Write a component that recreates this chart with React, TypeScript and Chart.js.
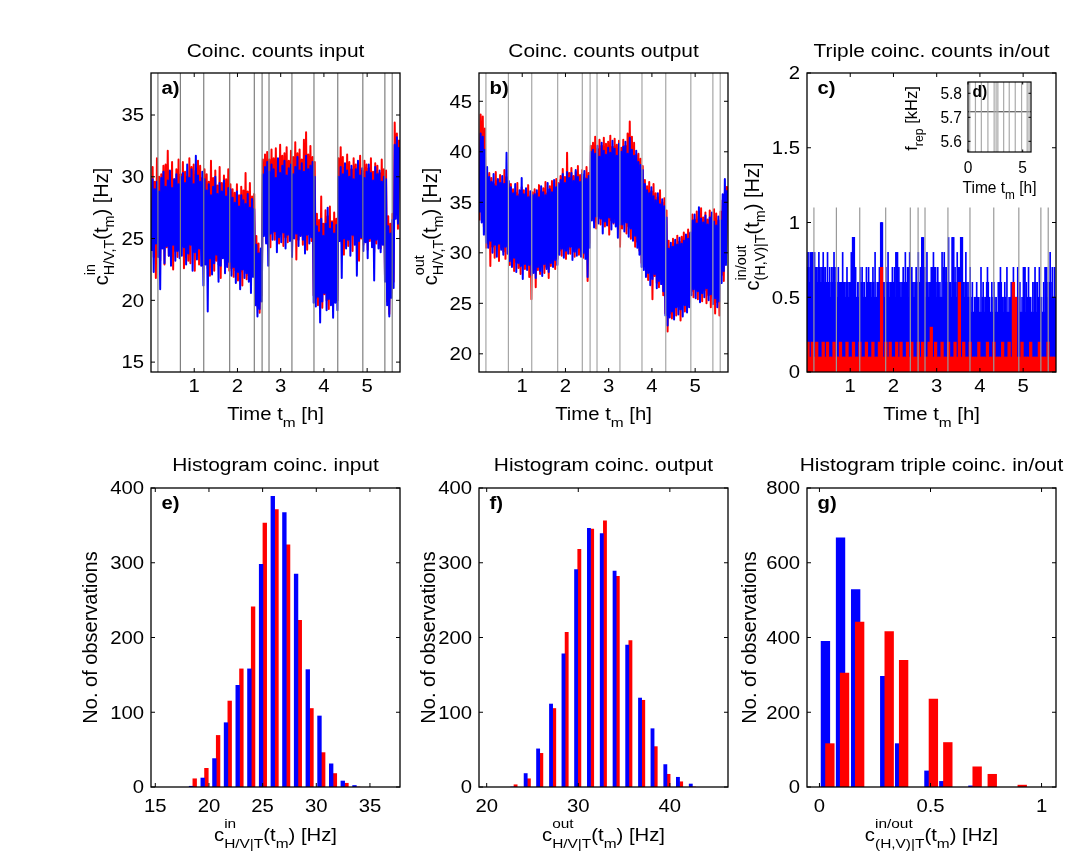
import React, { useEffect, useRef } from 'react';
import { Chart, registerables } from 'chart.js';

Chart.register(...registerables);

const W = 1073;
const H = 865;
const FONT = '"Liberation Sans", Arial, Helvetica, sans-serif';
const BLUE = '#0000ff';
const RED = '#ff0000';

// Reference events (hours) marked with grey vertical lines
const eventTimes = [0.16, 0.68, 1.22, 1.82, 2.39, 2.57, 2.73, 3.26, 3.77, 4.32, 4.9, 5.41, 5.58];

// Time series are stored as per-bin (0.05 h) minimum / maximum of the recorded rate
const BIN_H = 0.05;

// a) input coincidences [Hz]
const inBlueHi = [29.8, 29.0, 29.6, 28.8, 29.9, 30.4, 29.2, 29.7, 30.5, 29.1, 29.8, 30.2, 29.4, 30.0,
  30.3, 29.5, 31.0, 29.9, 30.6, 29.4, 31.7, 30.1, 29.6, 30.4, 29.8,
  28.9, 29.4, 28.5, 29.2, 30.0, 28.6, 29.5, 28.8, 29.7, 28.4, 29.1, 29.0,
  28.3, 27.9, 28.8, 27.6, 28.5, 28.1, 27.8, 28.6, 27.5, 28.2, 27.4,
  24.5, 23.8, 24.2, 30.2,
  30.8, 31.2, 30.4, 31.0, 30.6, 29.9, 31.5, 30.3, 30.9, 31.3, 30.1, 30.7, 31.0, 30.2, 30.8, 31.6, 30.5, 31.1, 30.4, 31.7, 30.6, 30.9, 31.2, 30.0,
  26.0, 25.5, 26.6, 25.2, 26.2, 27.5, 25.8, 26.3, 25.4, 26.1, 30.0,
  30.8, 30.2, 31.1, 30.5, 30.0, 30.9, 29.8, 30.6, 31.3, 30.1, 30.7, 29.9, 30.4, 31.0, 30.3, 29.7, 30.8, 30.2, 30.5, 29.6, 30.0,
  29.8, 26.0, 25.4, 26.5,
  32.6, 33.2, 32.4];
const inBlueLo = [24.0, 22.3, 24.6, 23.5, 20.9, 24.2, 23.0, 24.4, 23.6, 22.8, 24.5, 23.2, 24.0, 23.4,
  23.6, 24.3, 22.9, 23.8, 24.5, 22.4, 23.9, 23.3, 24.2, 22.8, 21.2,
  22.9, 19.1, 23.4, 22.1, 23.0, 23.7, 21.5, 22.8, 23.4, 22.2, 22.7, 23.1,
  22.0, 22.7, 21.4, 22.3, 20.9, 22.5, 21.8, 22.2, 21.5, 20.6, 21.9,
  19.6, 18.7, 19.3, 19.9,
  25.2, 24.6, 22.8, 25.4, 24.9, 25.6, 23.9, 25.1, 24.7, 25.5, 24.2, 25.3, 24.8, 23.5, 25.0, 25.4, 24.4, 25.2, 24.9, 23.8, 25.3, 24.6, 25.1, 19.8,
  19.5, 20.3, 18.2, 19.9, 20.6, 19.2, 20.1, 19.6, 18.6, 19.8, 19.2,
  24.8, 21.8, 25.0, 24.2, 24.9, 23.6, 25.3, 24.5, 22.0, 24.8, 25.1, 24.0, 24.7, 23.4, 25.0, 24.3, 21.6, 24.9, 24.2, 23.9, 24.5,
  21.5, 19.6, 18.7, 20.2,
  21.0, 26.6, 26.2];
const inRedHi = [30.8, 29.6, 31.5, 30.0, 30.2, 30.9, 31.0, 32.1, 30.4, 31.2, 29.8, 30.6, 31.4, 30.2,
  31.2, 30.4, 30.0, 31.5, 30.8, 31.0, 30.5, 31.3, 30.9, 29.9, 30.6,
  30.2, 29.6, 31.3, 29.9, 30.5, 29.3, 30.8, 29.5, 30.1, 29.8, 30.6, 29.4,
  29.0, 28.7, 29.4, 28.5, 29.2, 28.9, 30.3, 28.8, 29.5, 28.4, 28.6,
  25.2, 24.6, 23.9, 31.4,
  31.8, 32.0, 31.4, 32.2, 31.5, 32.3, 31.2, 32.6, 31.7, 31.9, 32.4, 31.3, 32.1, 31.6, 32.8, 31.9, 32.2, 31.4, 33.0, 33.6, 31.8, 32.5, 31.6, 31.2,
  27.0, 26.5, 28.4, 26.2, 27.3, 26.8, 27.6, 26.4, 27.1, 26.6, 31.5,
  32.4, 31.6, 30.9, 31.8, 31.2, 30.6, 31.5, 31.0, 30.8, 31.7, 30.5, 31.3, 31.0, 30.7, 31.5, 30.4, 31.1, 30.9, 30.3, 31.4, 30.6,
  30.5, 26.8, 26.2, 27.0,
  34.4, 33.5, 33.0];
const inRedLo = [24.5, 23.5, 21.8, 24.0, 23.2, 24.6, 22.9, 24.3, 23.6, 24.8, 22.5, 24.0, 23.5, 24.4,
  24.4, 22.6, 24.0, 23.2, 23.0, 24.6, 22.4, 24.1, 22.9, 24.3, 23.5,
  23.5, 22.6, 22.0, 23.8, 22.4, 23.2, 22.9, 21.8, 23.5, 22.6, 23.3, 22.4,
  22.6, 21.9, 22.4, 21.6, 22.3, 21.2, 22.5, 21.7, 22.0, 21.4, 22.3,
  20.3, 19.5, 19.0, 20.4,
  25.6, 24.8, 25.2, 24.3, 25.5, 24.9, 25.3, 24.6, 25.8, 24.4, 25.1, 24.7, 25.4, 24.2, 25.6, 23.3, 24.9, 25.3, 24.5, 25.0, 24.1, 25.4, 24.8, 20.4,
  20.2, 19.6, 20.8, 19.4, 20.5, 20.0, 19.3, 20.7, 19.9, 20.4, 20.0,
  25.4, 24.6, 23.7, 25.1, 24.4, 25.3, 24.0, 25.2, 24.7, 23.2, 25.0, 24.5, 25.3, 24.1, 24.8, 25.2, 23.9, 24.6, 25.0, 24.2, 24.7,
  22.0, 19.9, 18.9, 20.6,
  21.5, 27.0, 25.8];

// b) output coincidences [Hz]
const outBlueHi = [41.8, 41.5, 40.2, 38.5,
  37.5, 37.0, 37.8, 36.6, 37.3, 36.9, 37.6, 36.8, 39.9, 37.1,
  36.5, 35.9, 36.8, 35.6, 36.2, 37.4, 35.8, 36.4, 35.5, 36.1, 35.7,
  35.8, 36.2, 35.5, 36.6, 36.0, 35.7, 36.9, 36.3, 36.0, 37.2, 36.5, 36.8,
  37.2, 37.8, 36.9, 38.0, 37.4, 37.9, 37.1, 38.2, 37.5, 37.0, 37.8, 38.1, 37.3, 37.6, 40.0,
  40.2, 39.8, 40.6, 39.5, 40.9, 40.1, 39.7, 40.4, 39.9, 41.1, 40.3, 39.6, 40.8, 40.0,
  40.5, 41.0, 39.8, 41.4, 40.2, 39.6, 40.1, 39.0, 38.7, 38.2,
  36.8, 36.2, 35.9, 36.5, 35.6, 35.2, 35.9, 34.8, 35.3, 34.6, 33.5,
  30.4, 31.0, 30.6, 31.3, 30.8, 31.5, 30.9, 31.2, 31.8, 31.4, 32.0,
  33.2, 33.8, 32.9, 34.5, 33.4, 33.0, 33.7, 32.8, 33.5, 34.0, 33.1, 32.7, 33.6, 33.2,
  35.8, 37.3, 36.2];
const outBlueLo = [34.0, 33.0, 31.8, 31.0,
  30.5, 31.2, 30.0, 30.8, 29.6, 30.9, 30.3, 29.8, 30.6, 29.9,
  29.2, 28.6, 29.5, 28.1, 29.0, 28.7, 27.4, 28.9, 28.3, 28.8, 27.8,
  28.0, 27.5, 28.6, 28.2, 27.7, 28.9, 28.4, 28.1, 29.0, 28.6, 29.3, 28.8,
  29.8, 30.4, 29.5, 30.2, 29.9, 30.6, 29.3, 30.1, 29.7, 30.5, 29.6, 30.0, 29.4, 27.6, 30.5,
  33.2, 32.5, 33.6, 32.9, 33.4, 31.9, 33.1, 32.7, 33.5, 32.3, 33.0, 32.6, 31.5, 32.8,
  32.8, 32.1, 33.0, 31.6, 32.4, 31.2, 31.7, 30.5, 29.8, 28.6,
  28.3, 27.6, 28.0, 26.8, 27.4, 27.9, 26.5, 27.2, 26.9, 26.2, 23.8,
  22.8, 23.6, 24.2, 23.4, 24.6, 23.9, 24.4, 23.7, 24.8, 24.1, 24.6,
  25.8, 26.4, 25.5, 26.2, 25.1, 26.0, 25.6, 26.5, 25.3, 25.9, 24.9, 25.5, 24.6, 25.2,
  27.0, 28.2, 28.8];
const outRedHi = [43.7, 43.5, 42.3, 37.8,
  37.9, 37.4, 36.8, 38.0, 37.2, 37.7, 36.9, 38.2, 37.5, 36.8,
  36.8, 36.3, 36.0, 36.9, 35.8, 36.5, 36.2, 35.9, 36.7, 35.6, 36.0,
  36.3, 35.9, 36.7, 36.1, 36.4, 37.0, 35.9, 36.6, 37.1, 36.4, 37.3, 36.9,
  37.6, 38.3, 37.5, 39.9, 37.9, 38.4, 37.6, 38.0, 38.6, 37.7, 38.2, 37.4, 38.5, 37.9, 40.6,
  40.9, 41.5, 40.3, 41.2, 40.6, 41.4, 40.8, 41.0, 41.6, 40.5, 41.3, 40.7, 41.1, 40.4,
  41.2, 40.6, 41.8, 43.0, 41.5, 40.9, 39.7, 39.8, 39.3, 38.6,
  37.2, 36.6, 37.0, 36.1, 36.8, 35.9, 35.5, 36.2, 35.0, 35.4, 34.2,
  31.2, 30.6, 31.4, 30.9, 31.7, 31.1, 31.6, 32.0, 31.5, 32.3, 31.9,
  33.8, 33.3, 34.1, 33.6, 34.4, 33.5, 34.0, 33.3, 34.2, 33.7, 34.3, 33.9, 33.2, 34.1,
  35.2, 36.0, 36.6];
const outRedLo = [33.2, 34.5, 32.6, 30.5,
  30.9, 28.7, 30.6, 29.5, 30.9, 29.2, 30.5, 30.1, 29.4, 30.7,
  28.8, 29.3, 28.2, 29.1, 28.5, 27.9, 29.0, 28.4, 29.2, 27.6, 25.4,
  28.5, 26.6, 28.3, 27.9, 28.8, 28.0, 28.6, 27.5, 28.7, 29.1, 28.4, 29.4,
  30.2, 29.7, 30.5, 29.4, 30.3, 29.9, 30.7, 29.6, 30.4, 29.8, 30.3, 29.5, 29.9, 27.2, 31.0,
  33.6, 33.0, 32.4, 33.7, 32.8, 33.3, 32.6, 33.8, 31.8, 33.2, 32.9, 33.5, 32.4, 30.6,
  32.4, 33.1, 31.9, 32.6, 31.4, 32.0, 30.6, 31.1, 30.2, 29.0,
  28.8, 28.1, 27.3, 28.4, 25.4, 27.7, 27.0, 26.6, 27.4, 25.8, 24.0,
  22.2, 24.0, 23.5, 24.5, 23.8, 24.7, 23.3, 24.9, 24.2, 24.6, 25.0,
  26.2, 25.6, 26.6, 25.4, 26.0, 25.2, 26.3, 25.0, 25.8, 24.6, 25.4, 24.0, 25.1, 23.8,
  27.8, 27.2, 29.3];

// c) triple coincidences [Hz]: dense level and peak value per bin
const tripleBlueTop = [0.7, 0.6, 0.8, 0.7, 0.6, 0.7, 0.6, 0.7, 0.6, 0.6, 0.5, 0.6, 0.7, 0.6,
  0.5, 0.6, 0.6, 0.5, 0.6, 0.5, 0.6, 0.9, 0.5, 0.5, 0.6,
  0.6, 0.5, 0.5, 0.6, 0.5, 0.6, 0.5, 0.5, 0.6, 1.0, 0.5, 0.6,
  0.6, 0.5, 0.6, 0.5, 0.8, 0.6, 0.5, 0.6, 0.6, 0.5, 0.7, 0.6, 0.5, 0.6, 0.6,
  0.6, 0.9, 0.5, 0.6, 0.5, 0.6, 0.7, 0.5, 0.6, 0.5, 0.5, 0.7, 0.6, 0.6, 0.5,
  0.9, 0.6, 0.5, 0.7, 0.9, 0.5, 0.6, 0.5, 0.5, 0.4,
  0.4, 0.5, 0.4, 0.4, 0.5, 0.4, 0.6, 0.4, 0.4, 0.5, 0.4, 0.4, 0.6, 0.4,
  0.5, 0.4, 0.4, 0.5, 0.6, 0.4, 0.5, 0.4, 0.4, 0.7, 0.4, 0.5, 0.4, 0.4, 0.6, 0.4, 0.5, 0.4, 0.4, 0.7, 0.5, 0.6, 0.5, 0.5];
const tripleBluePeak = [0.8, 0.8, 0.8, 0.8, 0.7, 0.8, 0.7, 0.8, 0.7, 0.8, 0.7, 0.7, 0.8, 0.7,
  0.7, 0.6, 0.8, 0.6, 0.7, 0.6, 0.8, 0.9, 0.7, 0.6, 0.7,
  0.7, 0.6, 0.7, 0.7, 0.6, 0.7, 0.8, 0.6, 0.7, 1.0, 0.6, 0.7,
  0.8, 0.6, 0.7, 0.7, 0.8, 0.7, 0.6, 0.7, 0.8, 0.7, 0.8, 0.7, 0.6, 0.7, 0.8,
  0.7, 0.9, 0.7, 0.8, 0.6, 0.7, 0.8, 0.7, 0.7, 0.6, 0.8, 0.8, 0.7, 0.9, 0.6,
  0.9, 0.7, 0.8, 0.7, 0.9, 0.6, 0.8, 0.6, 0.7, 0.6,
  0.5, 0.6, 0.5, 0.7, 0.6, 0.5, 0.7, 0.5, 0.6, 0.6, 0.5, 0.6, 0.7, 0.5,
  0.6, 0.7, 0.5, 0.6, 0.7, 0.5, 0.7, 0.6, 0.5, 0.7, 0.6, 0.7, 0.5, 0.6, 0.7, 0.6, 0.7, 0.5, 0.6, 0.7, 0.6, 0.8, 0.7, 0.7];
const tripleRedHi = [0.2, 0.1, 0.2, 0.1, 0.2, 0.1, 0.1, 0.2, 0.1, 0.2, 0.1, 0.1, 0.2, 0.1,
  0.1, 0.2, 0.1, 0.1, 0.2, 0.1, 0.1, 0.2, 0.1, 0.1, 0.2,
  0.1, 0.1, 0.2, 0.1, 0.1, 0.2, 0.1, 0.1, 0.2, 0.7, 0.1, 0.2,
  0.1, 0.2, 0.1, 0.1, 0.2, 0.1, 0.2, 0.1, 0.1, 0.2, 0.1, 0.2, 0.1, 0.1, 0.2,
  0.1, 0.2, 0.1, 0.1, 0.2, 0.3, 0.1, 0.2, 0.1, 0.1, 0.2, 0.1, 0.1, 0.2, 0.1,
  0.1, 0.2, 0.1, 0.6, 0.1, 0.2, 0.1, 0.1, 0.2, 0.1,
  0.1, 0.1, 0.2, 0.1, 0.1, 0.1, 0.2, 0.1, 0.1, 0.2, 0.1, 0.1, 0.1, 0.2,
  0.1, 0.1, 0.2, 0.1, 0.6, 0.5, 0.1, 0.1, 0.2, 0.1, 0.1, 0.1, 0.2, 0.1, 0.1, 0.1, 0.2, 0.1, 0.1, 0.1, 0.2, 0.1, 0.1, 0.1];

// d) repetition rate [kHz]
const repTimes = [0, 5.76];
const repKHz = [5.723, 5.723];

// e) histogram of input coincidences
const eBins = [18.5, 19.59, 20.68, 21.76, 22.85, 23.94, 25.03, 26.12, 27.2, 28.29, 29.38, 30.47, 31.56, 32.64, 33.73];
const eBlue = [1, 12, 38, 86, 136, 158, 298, 389, 367, 285, 157, 95, 31, 8, 2];
const eRed = [11, 25, 69, 115, 158, 241, 353, 371, 324, 223, 105, 46, 18, 5, 0];

// f) histogram of output coincidences
const fBins = [22.98, 24.43, 25.79, 27.2, 28.56, 29.94, 31.34, 32.74, 34.14, 35.52, 36.92, 38.28, 39.68, 41.06, 42.46];
const fBlue = [0, 18, 51, 111, 178, 291, 346, 339, 289, 190, 119, 78, 30, 13, 4];
const fRed = [3, 11, 45, 105, 207, 318, 345, 356, 282, 196, 116, 54, 17, 7, 0];

// g) histogram of triple coincidences
const gBlueBins = [0.027, 0.095, 0.163, 0.294, 0.361, 0.493, 0.56, 0.691];
const gBlue = [390, 667, 528, 296, 116, 43, 15, 3];
const gRedBins = [0.047, 0.113, 0.181, 0.314, 0.379, 0.513, 0.578, 0.71, 0.778, 0.913];
const gRed = [116, 305, 441, 416, 339, 235, 119, 54, 34, 5];

// tick values
const timeTicks = [1, 2, 3, 4, 5];
const aYTicks = [15, 20, 25, 30, 35];
const bYTicks = [20, 25, 30, 35, 40, 45];
const cYTicks = [0, 0.5, 1, 1.5, 2];
const cYTickLabels = ['0', '0.5', '1', '1.5', '2'];
const dXTicks = [0, 5];
const dYTicks = [5.6, 5.7, 5.8];
const dYTickLabels = ['5.6', '5.7', '5.8'];
const eXTicks = [15, 20, 25, 30, 35];
const fXTicks = [20, 30, 40];
const gXTicks = [0, 0.5, 1];
const gXTickLabels = ['0', '0.5', '1'];
const histYTicks = [0, 100, 200, 300, 400];
const gYTicks = [0, 200, 400, 600, 800];

type Part = { t?: string; sup?: string; sub?: string };

interface TextStyle {
  size: number;
  sx: number;
  raise: number;
  drop: number;
  script: number;
  bold?: boolean;
}

const H_TEXT: TextStyle = { size: 17.5, sx: 1.16, raise: 13, drop: 7, script: 0.76 };
const TITLE_TEXT: TextStyle = { ...H_TEXT, size: 18 };
const V_TEXT: TextStyle = { size: 20, sx: 1, raise: 13, drop: 6, script: 0.72 };
const INSET_H: TextStyle = { size: 16, sx: 0.97, raise: 11, drop: 6, script: 0.76 };
const INSET_V: TextStyle = { size: 16.5, sx: 1, raise: 11, drop: 6, script: 0.75 };

function drawRich(
  ctx: CanvasRenderingContext2D,
  parts: Part[],
  x: number,
  y: number,
  st: TextStyle,
  align: 'left' | 'center' | 'right',
  rotate = false,
) {
  const fMain = `${st.bold ? 'bold ' : ''}${st.size}px ${FONT}`;
  const fScript = `${st.size * st.script}px ${FONT}`;
  const widths = parts.map((p) => {
    if (p.t !== undefined) {
      ctx.font = fMain;
      return ctx.measureText(p.t).width;
    }
    ctx.font = fScript;
    return Math.max(p.sup ? ctx.measureText(p.sup).width : 0, p.sub ? ctx.measureText(p.sub).width : 0);
  });
  const total = widths.reduce((s, w) => s + w, 0);
  ctx.save();
  ctx.translate(x, y);
  if (rotate) ctx.rotate(-Math.PI / 2);
  ctx.scale(st.sx, 1);
  ctx.fillStyle = '#000';
  ctx.textAlign = 'left';
  ctx.textBaseline = 'alphabetic';
  let cx = align === 'center' ? -total / 2 : align === 'right' ? -total : 0;
  parts.forEach((p, i) => {
    if (p.t !== undefined) {
      ctx.font = fMain;
      ctx.fillText(p.t, cx, 0);
    } else {
      ctx.font = fScript;
      if (p.sup) ctx.fillText(p.sup, cx, -st.raise);
      if (p.sub) ctx.fillText(p.sub, cx, st.drop);
    }
    cx += widths[i];
  });
  ctx.restore();
}

interface Decor {
  title?: string;
  titleY?: number;
  letter: string;
  letterStyle: TextStyle;
  letterDx: number;
  letterDy: number;
  xTicks: number[];
  xTickLabels?: string[];
  xTickY: number;
  yTicks: number[];
  yTickLabels?: string[];
  yTickGap: number;
  tickStyle: TextStyle;
  tickLen: number;
  xLabel?: Part[];
  xLabelY?: number;
  xLabelDx?: number;
  xLabelStyle?: TextStyle;
  yLabel?: Part[];
  yLabelX?: number;
  yLabelDy?: number;
  yLabelStyle?: TextStyle;
  events?: { times: number[]; color: string; top?: number };
  whiteBack?: boolean;
  boxWidth: number;
}

function decorPlugin(d: Decor) {
  return {
    id: 'panelDecor',
    beforeDatasetsDraw(chart: any) {
      if (!d.whiteBack) return;
      const { ctx, chartArea: a } = chart;
      ctx.save();
      ctx.fillStyle = '#fff';
      ctx.fillRect(a.left, a.top, a.right - a.left, a.bottom - a.top);
      ctx.restore();
    },
    afterDatasetsDraw(chart: any) {
      const { ctx, chartArea: a } = chart;
      const xs = chart.scales.x;
      const ys = chart.scales.y;
      ctx.save();
      if (d.events) {
        ctx.strokeStyle = d.events.color;
        ctx.lineWidth = 1.2;
        const yTop = d.events.top !== undefined ? ys.getPixelForValue(d.events.top) : a.top;
        d.events.times.forEach((t) => {
          const px = xs.getPixelForValue(t);
          ctx.beginPath();
          ctx.moveTo(px, a.bottom);
          ctx.lineTo(px, yTop);
          ctx.stroke();
        });
      }
      ctx.strokeStyle = '#000';
      ctx.lineWidth = d.boxWidth;
      ctx.strokeRect(a.left, a.top, a.right - a.left, a.bottom - a.top);
      ctx.lineWidth = 1;
      ctx.beginPath();
      d.xTicks.forEach((v) => {
        const px = xs.getPixelForValue(v);
        ctx.moveTo(px, a.bottom);
        ctx.lineTo(px, a.bottom - d.tickLen);
        ctx.moveTo(px, a.top);
        ctx.lineTo(px, a.top + d.tickLen);
      });
      d.yTicks.forEach((v) => {
        const py = ys.getPixelForValue(v);
        ctx.moveTo(a.left, py);
        ctx.lineTo(a.left + d.tickLen, py);
        ctx.moveTo(a.right, py);
        ctx.lineTo(a.right - d.tickLen, py);
      });
      ctx.stroke();
      ctx.restore();

      const midX = (a.left + a.right) / 2;
      const midY = (a.top + a.bottom) / 2;
      d.xTicks.forEach((v, i) => {
        const label = d.xTickLabels ? d.xTickLabels[i] : String(v);
        drawRich(ctx, [{ t: label }], xs.getPixelForValue(v), d.xTickY, d.tickStyle, 'center');
      });
      d.yTicks.forEach((v, i) => {
        const label = d.yTickLabels ? d.yTickLabels[i] : String(v);
        const py = ys.getPixelForValue(v) + d.tickStyle.size * 0.36;
        drawRich(ctx, [{ t: label }], a.left - d.yTickGap, py, d.tickStyle, 'right');
      });
      if (d.title) drawRich(ctx, [{ t: d.title }], midX, d.titleY!, TITLE_TEXT, 'center');
      if (d.xLabel) drawRich(ctx, d.xLabel, midX + (d.xLabelDx || 0), d.xLabelY!, d.xLabelStyle || H_TEXT, 'center');
      if (d.yLabel) drawRich(ctx, d.yLabel, d.yLabelX!, midY + (d.yLabelDy || 0), d.yLabelStyle || V_TEXT, 'center', true);
      drawRich(ctx, [{ t: d.letter }], a.left + d.letterDx, a.top + d.letterDy, d.letterStyle, 'left');
    },
  };
}

interface Area { l: number; t: number; r: number; b: number }

function options(area: Area, xr: [number, number], yr: [number, number]) {
  return {
    responsive: false,
    animation: false as const,
    devicePixelRatio: 1,
    events: [],
    layout: { padding: { left: area.l, top: area.t, right: W - area.r, bottom: H - area.b } },
    plugins: { legend: { display: false }, tooltip: { enabled: false }, title: { display: false } },
    scales: {
      x: { type: 'linear' as const, display: false, min: xr[0], max: xr[1], offset: false },
      y: { type: 'linear' as const, display: false, min: yr[0], max: yr[1] },
    },
  };
}

const binTimes = (n: number) => Array.from({ length: n }, (_, i) => (i + 0.5) * BIN_H);

// trace running through each bin's minimum and maximum
function traceData(lo: number[], hi: number[]) {
  const pts: { x: number; y: number }[] = [];
  hi.forEach((h, i) => {
    pts.push({ x: (i + 0.25) * BIN_H, y: lo[i] });
    pts.push({ x: (i + 0.75) * BIN_H, y: h });
  });
  return pts;
}

function traceDataset(label: string, data: any[], color: string, order: number) {
  return {
    label,
    data,
    borderColor: color,
    borderWidth: 2,
    borderJoinStyle: 'round',
    pointRadius: 0,
    tension: 0,
    order,
  };
}

function levelData(hi: number[]) {
  const ts = binTimes(hi.length);
  return hi.map((h, i) => ({ x: ts[i], y: h }));
}

function barDataset(label: string, data: any[], color: string, order: number, thickness = 2.6) {
  return {
    label,
    data,
    backgroundColor: color,
    borderWidth: 0,
    grouped: false,
    order,
    barThickness: thickness,
  };
}

const ROW1 = { t: 73, b: 372 };
const ROW2 = { t: 488, b: 787 };
const COL = [
  { l: 151, r: 400 },
  { l: 479, r: 728 },
  { l: 807, r: 1056 },
];
const LETTER: TextStyle = { ...H_TEXT, bold: true };

const timeLabel: Part[] = [{ t: 'Time t' }, { sub: 'm' }, { t: ' [h]' }];

function topDecor(letter: string, title: string, yTicks: number[], yLabel: Part[], yLabelX: number, evColor: string, yTickLabels?: string[], top?: number): Decor {
  return {
    title,
    titleY: 57,
    letter,
    letterStyle: LETTER,
    letterDx: 10.5,
    letterDy: 21,
    xTicks: timeTicks,
    xTickY: 392,
    yTicks,
    yTickLabels,
    yTickGap: 7,
    tickStyle: H_TEXT,
    tickLen: 4,
    xLabel: timeLabel,
    xLabelY: 420,
    yLabel,
    yLabelX,
    yLabelDy: 4,
    events: { times: eventTimes, color: evColor, top },
    boxWidth: 1.3,
  };
}

function bottomDecor(letter: string, title: string, xTicks: number[], yTicks: number[], xLabel: Part[], yLabelX: number, xTickLabels?: string[]): Decor {
  return {
    title,
    titleY: 471,
    letter,
    letterStyle: LETTER,
    letterDx: 10.5,
    letterDy: 21,
    xTicks,
    xTickLabels,
    xTickY: 811.5,
    yTicks,
    yTickGap: 7,
    tickStyle: H_TEXT,
    tickLen: 4,
    xLabel,
    xLabelY: 841,
    yLabel: [{ t: 'No. of observations' }],
    yLabelX,
    boxWidth: 1.3,
  };
}

function buildConfigs(): any[] {
  const configs: any[] = [];
  const r1a: Area = { ...COL[0], ...ROW1 };
  const r1b: Area = { ...COL[1], ...ROW1 };
  const r1c: Area = { ...COL[2], ...ROW1 };

  configs.push({
    type: 'line',
    data: {
      datasets: [
        traceDataset('H/V in', traceData(inBlueLo, inBlueHi), BLUE, 0),
        traceDataset('T in', traceData(inRedLo, inRedHi), RED, 1),
      ],
    },
    options: options(r1a, [0, 5.76], [14.2, 38.4]),
    plugins: [decorPlugin(topDecor('a)', 'Coinc. counts input', aYTicks,
      [{ t: 'c' }, { sup: 'in', sub: 'H/V,T' }, { t: '(t' }, { sub: 'm' }, { t: ') [Hz]' }], 108, '#7f7f7f'))],
  });

  configs.push({
    type: 'line',
    data: {
      datasets: [
        traceDataset('H/V out', traceData(outBlueLo, outBlueHi), BLUE, 0),
        traceDataset('T out', traceData(outRedLo, outRedHi), RED, 1),
      ],
    },
    options: options(r1b, [0, 5.76], [18.2, 47.8]),
    plugins: [decorPlugin(topDecor('b)', 'Coinc. counts output', bYTicks,
      [{ t: 'c' }, { sup: 'out', sub: 'H/V,T' }, { t: '(t' }, { sub: 'm' }, { t: ') [Hz]' }], 437, '#a6a6a6'))],
  });

  configs.push({
    type: 'bar',
    data: {
      datasets: [
        barDataset('triple H level', levelData(tripleBlueTop), BLUE, 2),
        barDataset('triple H peak', levelData(tripleBluePeak), BLUE, 1, 1),
        barDataset('triple V', levelData(tripleRedHi), RED, 0),
      ],
    },
    options: options(r1c, [0, 5.76], [0, 2]),
    plugins: [decorPlugin(topDecor('c)', 'Triple coinc. counts in/out', cYTicks,
      [{ t: 'c' }, { sup: 'in/out', sub: '(H,V)|T' }, { t: '(t' }, { sub: 'm' }, { t: ') [Hz]' }], 759, '#9a9a9a', cYTickLabels, 1.1))],
  });

  configs.push({
    type: 'line',
    data: {
      datasets: [{
        label: 'f_rep',
        data: repTimes.map((t, i) => ({ x: t, y: repKHz[i] })),
        borderColor: '#333',
        borderWidth: 1,
        pointRadius: 0,
      }],
    },
    options: options({ l: 968, t: 82, r: 1031, b: 152 }, [0, 5.76], [5.5555, 5.847]),
    plugins: [decorPlugin({
      letter: 'd)',
      letterStyle: { ...INSET_H, bold: true },
      letterDx: 4.5,
      letterDy: 15,
      xTicks: dXTicks,
      xTickY: 172.5,
      yTicks: dYTicks,
      yTickLabels: dYTickLabels,
      yTickGap: 6,
      tickStyle: INSET_H,
      tickLen: 2.5,
      xLabel: timeLabel,
      xLabelY: 193,
      xLabelDx: 0,
      xLabelStyle: INSET_H,
      yLabel: [{ t: 'f' }, { sub: 'rep' }, { t: ' [kHz]' }],
      yLabelX: 917,
      yLabelDy: 1.5,
      yLabelStyle: INSET_V,
      events: { times: eventTimes, color: '#aaaaaa' },
      whiteBack: true,
      boxWidth: 1.2,
    })],
  });

  const r2e: Area = { ...COL[0], ...ROW2 };
  const r2f: Area = { ...COL[1], ...ROW2 };
  const r2g: Area = { ...COL[2], ...ROW2 };

  const histSet = (label: string, xs: number[], ys: number[], color: string, order: number, thick: number, grouped: boolean) => ({
    label,
    data: xs.map((x, i) => ({ x, y: ys[i] })),
    backgroundColor: color,
    borderWidth: 0,
    barThickness: thick,
    grouped,
    order,
  });

  configs.push({
    type: 'bar',
    data: { datasets: [histSet('H/V', eBins, eBlue, BLUE, 0, 3.7, true), histSet('T', eBins, eRed, RED, 1, 3.7, true)] },
    options: options(r2e, [14.6, 37.8], [0, 400]),
    plugins: [decorPlugin(bottomDecor('e)', 'Histogram coinc. input', eXTicks, histYTicks,
      [{ t: 'c' }, { sup: 'in', sub: 'H/V|T' }, { t: '(t' }, { sub: 'm' }, { t: ') [Hz]' }], 96.5))],
  });

  configs.push({
    type: 'bar',
    data: { datasets: [histSet('H/V', fBins, fBlue, BLUE, 0, 3.2, true), histSet('T', fBins, fRed, RED, 1, 3.2, true)] },
    options: options(r2f, [19.16, 46.35], [0, 400]),
    plugins: [decorPlugin(bottomDecor('f)', 'Histogram coinc. output', fXTicks, histYTicks,
      [{ t: 'c' }, { sup: 'out', sub: 'H/V|T' }, { t: '(t' }, { sub: 'm' }, { t: ') [Hz]' }], 434.5))],
  });

  configs.push({
    type: 'bar',
    data: { datasets: [histSet('H/V', gBlueBins, gBlue, BLUE, 1, 8.7, false), histSet('T', gRedBins, gRed, RED, 0, 8.7, false)] },
    options: options(r2g, [-0.056, 1.065], [0, 800]),
    plugins: [decorPlugin(bottomDecor('g)', 'Histogram triple coinc. in/out', gXTicks, gYTicks,
      [{ t: 'c' }, { sup: 'in/out', sub: '(H,V)|T' }, { t: '(t' }, { sub: 'm' }, { t: ') [Hz]' }], 756, gXTickLabels))],
  });

  return configs;
}

export default function App() {
  const refs = useRef<(HTMLCanvasElement | null)[]>([]);
  const count = 7;
  useEffect(() => {
    const configs = buildConfigs();
    const charts = configs.map((cfg, i) => new Chart(refs.current[i] as HTMLCanvasElement, cfg));
    return () => charts.forEach((c) => c.destroy());
  }, []);
  return (
    <div style={{ position: 'absolute', left: 0, top: 0, width: W, height: H, background: '#fff', overflow: 'hidden' }}>
      {Array.from({ length: count }, (_, i) => (
        <canvas
          key={i}
          ref={(el) => { refs.current[i] = el; }}
          width={W}
          height={H}
          style={{ position: 'absolute', left: 0, top: 0, width: W, height: H }}
        />
      ))}
    </div>
  );
}
